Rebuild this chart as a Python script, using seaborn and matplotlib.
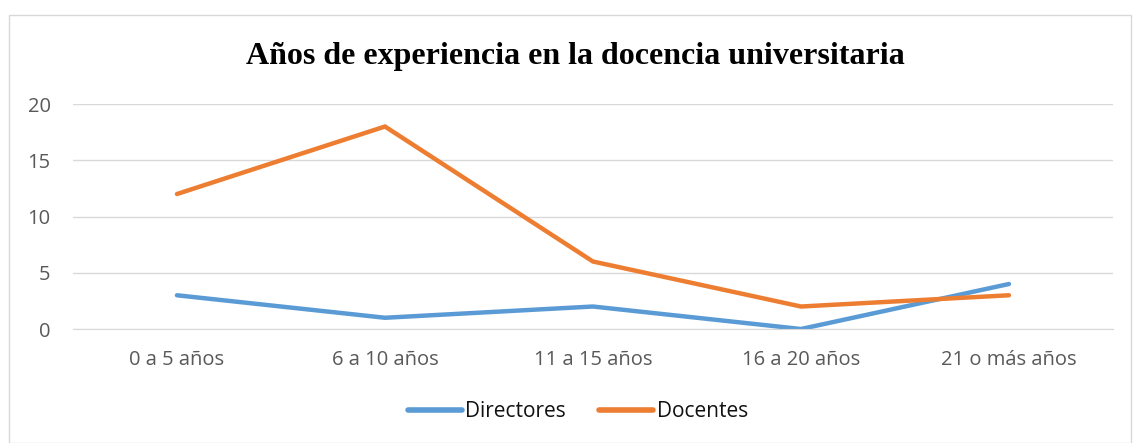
import matplotlib.pyplot as plt
import matplotlib.patches as mpatches
import numpy as np
import pandas as pd
import seaborn as sns

# data
categorias = ["0 a 5 años", "6 a 10 años", "11 a 15 años", "16 a 20 años", "21 o más años"]
directores = [3, 1, 2, 0, 4]
docentes = [12, 18, 6, 2, 3]

df = pd.DataFrame({
    "categoria": categorias * 2,
    "valor": directores + docentes,
    "serie": ["Directores"] * len(categorias) + ["Docentes"] * len(categorias),
})

sns.set_style("white")
plt.rcParams['font.family'] = ['Open Sans', 'DejaVu Sans']

fig = plt.figure(figsize=(11.33, 4.43), dpi=100)
ax = fig.add_axes([0.0644, 0.2573, 0.9179, 0.5079])

# chart border
fig.patches.append(mpatches.Rectangle((9 / 1133, 0.0), 1 - 9 / 1133 - 2 / 1133, 1 - 15 / 443,
                                      transform=fig.transFigure, fill=False,
                                      edgecolor="#D9D9D9", linewidth=1.0))

sns.lineplot(data=df, x="categoria", y="valor", hue="serie", ax=ax,
             palette={"Directores": "#5B9BD5", "Docentes": "#ED7D31"},
             linewidth=3.2, sort=False, legend=True)
for line in ax.get_lines():
    line.set_solid_capstyle("round")
    line.set_solid_joinstyle("miter")

ax.set_xlim(-0.5, len(categorias) - 0.5)
ax.set_ylim(0, 20)
ax.set_yticks([0, 5, 10, 15, 20])
ax.yaxis.grid(True, color="#D9D9D9", linewidth=1.0)
ax.set_axisbelow(True)
for s in ["top", "right", "left"]:
    ax.spines[s].set_visible(False)
ax.spines["bottom"].set_color("#D9D9D9")
ax.tick_params(axis="both", length=0, labelsize=14.5, colors="#595959")
ax.tick_params(axis="x", pad=15)
ax.tick_params(axis="y", pad=16)
ax.set_xlabel("")
ax.set_ylabel("")

fig.text(0.508, 0.873, "Años de experiencia en la docencia universitaria",
         ha="center", va="center", fontsize=23, fontweight="bold", color="black",
         family=["Liberation Serif", "DejaVu Serif"])

handles, labels = ax.get_legend_handles_labels()
ax.legend_.remove()
leg = fig.legend(handles, labels, loc="center", bbox_to_anchor=(0.51, 0.07), ncol=2,
                 frameon=False, fontsize=15, handlelength=2.6, handletextpad=0.15,
                 columnspacing=1.6)
for t in leg.get_texts():
    t.set_color("#111111")
for h in leg.get_lines():
    h.set_linewidth(4)
    h.set_solid_capstyle("round")

plt.savefig("out.png", dpi=100)
plt.close()
